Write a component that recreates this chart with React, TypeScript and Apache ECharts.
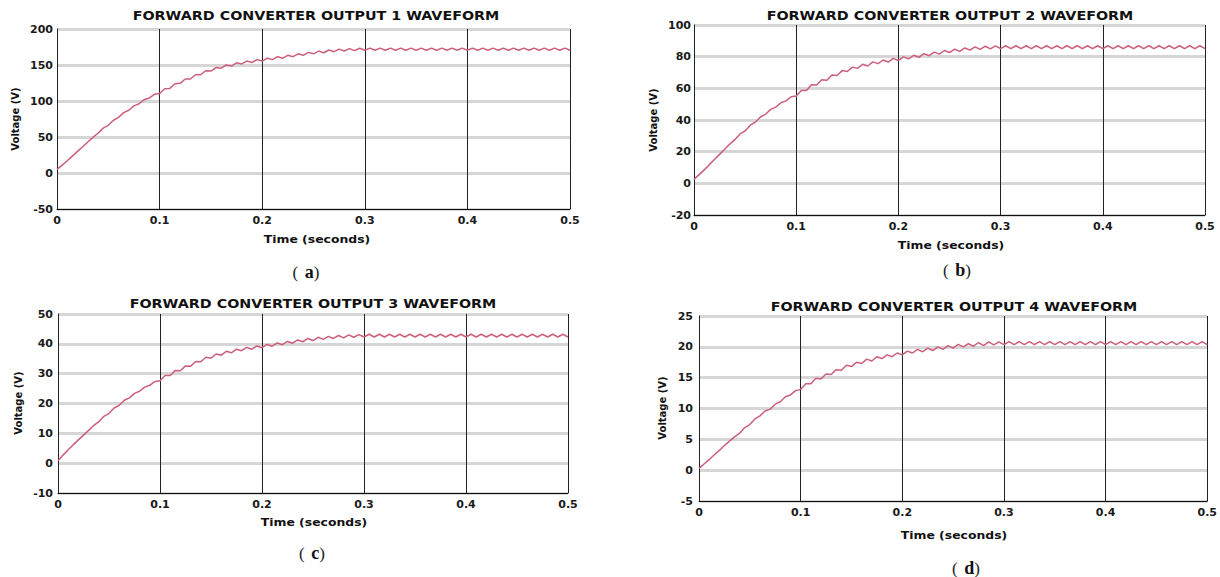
import React, { useEffect, useRef } from 'react';
import * as echarts from 'echarts';

// ---- data ----
const time = [
  0, 0.005, 0.01, 0.015, 0.02, 0.025, 0.03, 0.035, 0.04, 0.045,
  0.05, 0.055, 0.06, 0.065, 0.07, 0.075, 0.08, 0.085, 0.09, 0.095,
  0.1, 0.105, 0.11, 0.115, 0.12, 0.125, 0.13, 0.135, 0.14, 0.145,
  0.15, 0.155, 0.16, 0.165, 0.17, 0.175, 0.18, 0.185, 0.19, 0.195,
  0.2, 0.205, 0.21, 0.215, 0.22, 0.225, 0.23, 0.235, 0.24, 0.245,
  0.25, 0.255, 0.26, 0.265, 0.27, 0.275, 0.28, 0.285, 0.29, 0.295,
  0.3, 0.305, 0.31, 0.315, 0.32, 0.325, 0.33, 0.335, 0.34, 0.345,
  0.35, 0.355, 0.36, 0.365, 0.37, 0.375, 0.38, 0.385, 0.39, 0.395,
  0.4, 0.405, 0.41, 0.415, 0.42, 0.425, 0.43, 0.435, 0.44, 0.445,
  0.45, 0.455, 0.46, 0.465, 0.47, 0.475, 0.48, 0.485, 0.49, 0.495,
  0.5,
];

const output1 = [
  5, 11, 17, 23.5, 30, 36.5, 43, 49.5, 55.2, 62.3,
  66.2, 73.3, 77.2, 83.8, 87.2, 93.3, 96.2, 101.8, 104.2, 109.3,
  110.5, 117, 117.5, 124, 124.5, 130.5, 130.5, 136.5, 136.5, 142,
  141.5, 146.5, 145.5, 150, 148.5, 153, 151.5, 155.5, 153.5, 157.5,
  155.5, 159.5, 157.5, 161.5, 159.5, 163.5, 161.5, 165.5, 163.5, 167.5,
  165.5, 169.3, 167, 170.8, 168.5, 172, 169.5, 172.8, 170, 173.3,
  170.5, 173.5, 170.5, 173.5, 170.5, 173.5, 170.5, 173.5, 170.5, 173.5,
  170.5, 173.5, 170.5, 173.5, 170.5, 173.5, 170.5, 173.5, 170.5, 173.5,
  170.5, 173.5, 170.5, 173.5, 170.5, 173.5, 170.5, 173.5, 170.5, 173.5,
  170.5, 173.5, 170.5, 173.5, 170.5, 173.5, 170.5, 173.5, 170.5, 173.5,
  170.5,
];

const output2 = [
  2.5, 5.5, 8.5, 11.8, 15, 18.3, 21.5, 24.8, 27.6, 31.2,
  33.1, 36.7, 38.6, 41.9, 43.6, 46.7, 48.1, 50.9, 52.1, 54.7,
  55.1, 58.7, 58.6, 62.2, 62.1, 65.4, 65.1, 68.4, 68.1, 71.2,
  70.6, 73.4, 72.6, 75.2, 74.1, 76.7, 75.6, 77.9, 76.6, 78.9,
  77.6, 79.9, 78.6, 80.9, 79.6, 81.9, 80.6, 82.9, 81.6, 83.9,
  82.6, 84.8, 83.3, 85.5, 84.1, 86.2, 84.6, 86.6, 84.9, 86.8,
  85.1, 86.9, 85.1, 86.9, 85.1, 86.9, 85.1, 86.9, 85.1, 86.9,
  85.1, 86.9, 85.1, 86.9, 85.1, 86.9, 85.1, 86.9, 85.1, 86.9,
  85.1, 86.9, 85.1, 86.9, 85.1, 86.9, 85.1, 86.9, 85.1, 86.9,
  85.1, 86.9, 85.1, 86.9, 85.1, 86.9, 85.1, 86.9, 85.1, 86.9,
  85.1,
];

const output3 = [
  0.8, 2.7, 4.5, 6.2, 7.8, 9.4, 11, 12.6, 13.9, 15.7,
  16.7, 18.5, 19.4, 21.1, 21.9, 23.4, 24.1, 25.5, 26.1, 27.4,
  27.6, 29.4, 29.4, 31.1, 31, 32.6, 32.5, 34.1, 34, 35.5,
  35.2, 36.6, 36.2, 37.5, 37, 38.2, 37.7, 38.8, 38.2, 39.3,
  38.7, 39.8, 39.2, 40.3, 39.7, 40.8, 40.2, 41.3, 40.7, 41.8,
  41.1, 42.2, 41.5, 42.5, 41.8, 42.8, 42, 43, 42.2, 43.1,
  42.3, 43.2, 42.3, 43.2, 42.3, 43.2, 42.3, 43.2, 42.3, 43.2,
  42.3, 43.2, 42.3, 43.2, 42.3, 43.2, 42.3, 43.2, 42.3, 43.2,
  42.3, 43.2, 42.3, 43.2, 42.3, 43.2, 42.3, 43.2, 42.3, 43.2,
  42.3, 43.2, 42.3, 43.2, 42.3, 43.2, 42.3, 43.2, 42.3, 43.2,
  42.3,
];

const output4 = [
  0.3, 1, 1.7, 2.5, 3.2, 4, 4.7, 5.4, 6, 6.9,
  7.4, 8.3, 8.8, 9.6, 9.9, 10.7, 11.1, 11.9, 12.2, 12.9,
  13.1, 14, 14, 14.9, 14.8, 15.6, 15.5, 16.3, 16.2, 17,
  16.8, 17.5, 17.3, 18, 17.7, 18.4, 18.1, 18.7, 18.4, 19,
  18.7, 19.3, 19, 19.6, 19.2, 19.8, 19.4, 20, 19.6, 20.2,
  19.8, 20.4, 20, 20.5, 20.1, 20.7, 20.2, 20.8, 20.3, 20.8,
  20.35, 20.85, 20.35, 20.85, 20.35, 20.85, 20.35, 20.85, 20.35, 20.85,
  20.35, 20.85, 20.35, 20.85, 20.35, 20.85, 20.35, 20.85, 20.35, 20.85,
  20.35, 20.85, 20.35, 20.85, 20.35, 20.85, 20.35, 20.85, 20.35, 20.85,
  20.35, 20.85, 20.35, 20.85, 20.35, 20.85, 20.35, 20.85, 20.35, 20.85,
  20.35,
];

const titles = [
  'FORWARD CONVERTER OUTPUT 1 WAVEFORM',
  'FORWARD CONVERTER OUTPUT 2 WAVEFORM',
  'FORWARD CONVERTER OUTPUT 3 WAVEFORM',
  'FORWARD CONVERTER OUTPUT 4 WAVEFORM',
];
const subLetters = ['a', 'b', 'c', 'd'];
const yRanges = [
  [-50, 200, 50],
  [-20, 100, 20],
  [-10, 50, 10],
  [-5, 25, 5],
];
const xRange = [0, 0.5, 0.1];
const xName = 'Time (seconds)';
const yName = 'Voltage (V)';
const seriesValues = [output1, output2, output3, output4];

// ---- layout ----
const layouts = [
  { left: 57, top: 29, width: 513, height: 180, title: [316, 15], volt: [15, 119], tname: [317, 239], sub: [306, 272], ym: 4 },
  { left: 694, top: 25, width: 511, height: 190, title: [950, 15], volt: [653, 120], tname: [951, 245], sub: [957, 270], ym: 3 },
  { left: 58, top: 314, width: 510, height: 179, title: [313, 303], volt: [18, 403], tname: [314, 522], sub: [312, 553], ym: 5 },
  { left: 699, top: 316, width: 509, height: 185, title: [954, 306], volt: [662, 408], tname: [954, 535], sub: [966, 568], ym: 6 },
];

const FONT = 'DejaVu Sans';

export default function App() {
  const ref = useRef<HTMLDivElement>(null);
  useEffect(() => {
    const chart = echarts.init(ref.current as HTMLDivElement, null, { renderer: 'svg' });
    const grid: any[] = [];
    const xAxis: any[] = [];
    const yAxis: any[] = [];
    const series: any[] = [];
    const graphic: any[] = [];
    layouts.forEach((p, i) => {
      grid.push({ left: p.left, top: p.top, width: p.width, height: p.height, containLabel: false });
      xAxis.push({
        type: 'value', gridIndex: i, min: xRange[0], max: xRange[1], interval: xRange[2], z: 1,
        axisLine: { show: true, onZero: false, lineStyle: { color: '#111', width: 1 } },
        axisTick: { show: false },
        axisLabel: { color: '#1a1a1a', fontFamily: FONT, fontWeight: 'bold', fontSize: 11, margin: 6 },
        splitLine: { show: true, lineStyle: { color: '#222', width: 1 } },
      });
      const [mn, mx, iv] = yRanges[i];
      yAxis.push({
        type: 'value', gridIndex: i, min: mn, max: mx, interval: iv, z: 0,
        axisLine: { show: true, lineStyle: { color: '#111', width: 1 } },
        axisTick: { show: false },
        axisLabel: { color: '#1a1a1a', fontFamily: FONT, fontWeight: 'bold', fontSize: 11, margin: p.ym },
        splitLine: { show: true, lineStyle: { color: '#d6d6d6', width: 3 } },
      });
      series.push({
        type: 'line', xAxisIndex: i, yAxisIndex: i, symbol: 'none', silent: true,
        data: time.map((t, k) => [t, seriesValues[i][k]]),
        lineStyle: { color: '#cc5f7a', width: 1.5 },
      });
      graphic.push({
        type: 'text', x: p.title[0], y: p.title[1], scaleX: 1.1,
        style: { text: titles[i], fontFamily: FONT, fontWeight: 'bold', fontSize: 13, fill: '#111', align: 'center', verticalAlign: 'middle' },
      });
      graphic.push({
        type: 'text', x: p.volt[0], y: p.volt[1], rotation: Math.PI / 2,
        style: { text: yName, fontFamily: FONT, fontWeight: 'bold', fontSize: 10, fill: '#111', align: 'center', verticalAlign: 'middle' },
      });
      graphic.push({
        type: 'text', x: p.tname[0], y: p.tname[1], scaleX: 1.13,
        style: { text: xName, fontFamily: FONT, fontWeight: 'bold', fontSize: 11, fill: '#111', align: 'center', verticalAlign: 'middle' },
      });
      graphic.push({
        type: 'text', x: p.sub[0], y: p.sub[1],
        style: {
          text: '{p|(}  {l|' + subLetters[i] + '}{p|)}',
          align: 'center', verticalAlign: 'middle',
          rich: {
            p: { fontFamily: 'Liberation Serif', fontSize: 17, fill: '#222' },
            l: { fontFamily: 'Liberation Serif', fontSize: 18, fontWeight: 'bold', fill: '#111' },
          },
        },
      });
    });
    chart.setOption({
      animation: false,
      backgroundColor: '#ffffff',
      grid, xAxis, yAxis, series, graphic,
    });
    return () => chart.dispose();
  }, []);
  return <div ref={ref} style={{ position: 'absolute', left: 0, top: 0, width: 1220, height: 577, background: '#fff' }} />;
}
